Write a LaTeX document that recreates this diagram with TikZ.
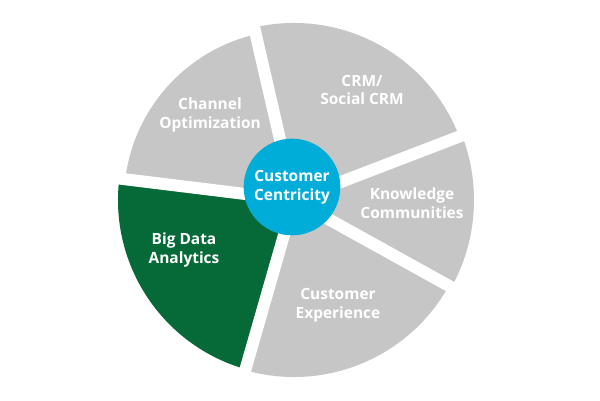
\documentclass[tikz,border=0pt]{standalone}
\usepackage{fontspec}
\setmainfont{Open Sans}
\definecolor{segGray}{HTML}{C6C6C6}
\definecolor{segGreen}{HTML}{056A37}
\definecolor{hubBlue}{HTML}{00ADD8}
\tikzset{
  seg/.style={fill=segGray, draw=none},
  gap/.style={draw=white, line width=0.36cm},
  lbl/.style={text=white, font=\bfseries\fontsize{13.2}{16}\selectfont, align=center}
}
\begin{document}
\begin{tikzpicture}[x=0.03cm,y=0.03cm]
			% Canvas:
			\useasboundingbox[fill=white] (0,0) rectangle (600,400);
			\coordinate (C) at (294,200);
			\coordinate (H) at (292,213);
			% Segments:
			\fill[seg] (C) -- ++(103:170) arc (103:173:170) -- cycle;
			\fill[seg] (C) -- ++(21:177) arc (21:103:177) -- cycle;
			\fill[seg] (C) -- ++(-29:180) arc (-29:21:180) -- cycle;
			\fill[seg] (C) -- ++(-106:177) arc (-106:-29:177) -- cycle;
			\fill[seg, fill=segGreen] (C) -- ++(173:176) arc (173:254:176) -- cycle;
			% Gaps:
			\foreach \a in {103,21,-29,-106,173}
				\draw[gap] (C) -- ++(\a:200);
			% Hub and labels:
			\node[circle, fill=hubBlue, minimum size=2.9cm, lbl] (hub) at (H) {Customer\\Centricity};
			\node[lbl] (channel) at (210,285) {Channel\\Optimization};
			\node[lbl] (crm) at (362,310) {CRM/\\Social CRM};
			\node[lbl] (knowledge) at (412,197) {Knowledge\\Communities};
			\node[lbl] (experience) at (338,95) {Customer\\Experience};
			\node[lbl] (bigdata) at (184,150) {Big Data\\Analytics};
\end{tikzpicture}
\end{document}
